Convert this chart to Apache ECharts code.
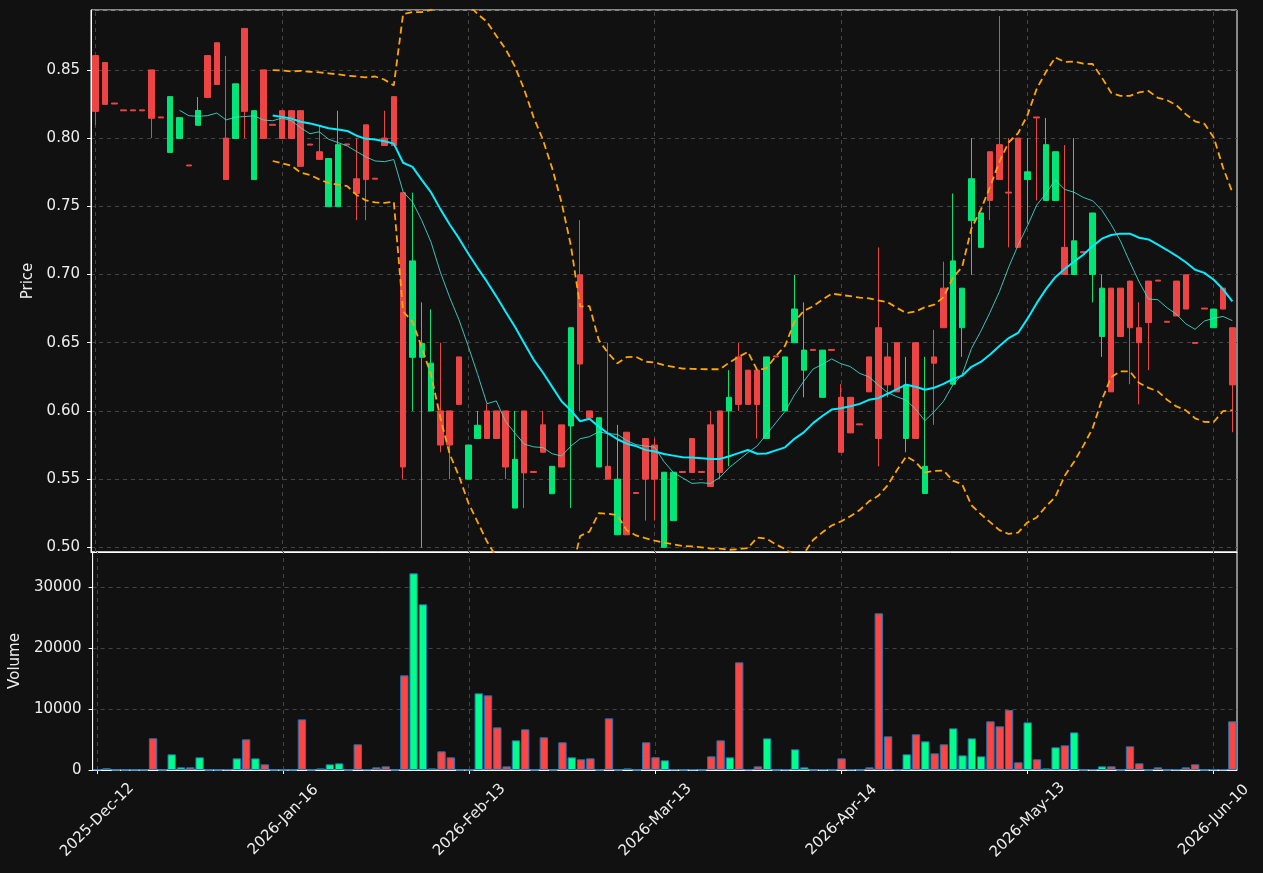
<!DOCTYPE html>
<html>
<head>
<meta charset="utf-8">
<script src="https://cdn.jsdelivr.net/npm/echarts@6/dist/echarts.min.js"></script>
<style>
html, body { margin: 0; padding: 0; background: #111111; }
#chart { width: 1263px; height: 873px; }
</style>
</head>
<body>
<div id="chart"></div>
<script>
// trading days: business days from the first date, skipping exchange holidays
const startDate = '2025-12-12';
const dayCount = 123;
const holidays = ['2025-12-24', '2025-12-25', '2025-12-26', '2025-12-31', '2026-01-01',
                  '2026-04-03', '2026-04-06', '2026-05-01'];
const monthNames = ['Jan', 'Feb', 'Mar', 'Apr', 'May', 'Jun', 'Jul', 'Aug', 'Sep', 'Oct', 'Nov', 'Dec'];
const labelEvery = 20;

// OHLC + volume
const opens = [
  0.8605,0.8554,0.8257,0.8207,0.8207,0.8207,0.8500,0.8155,0.7895,0.7997,
  0.7803,0.8094,0.8605,0.8699,0.8000,0.7997,0.8804,0.7696,0.8500,0.8101,
  0.8201,0.8201,0.8201,0.7956,0.7900,0.7497,0.7497,0.7957,0.7702,0.8097,
  0.7706,0.8000,0.8304,0.7600,0.6393,0.6393,0.6000,0.6000,0.6000,0.6396,
  0.5500,0.5798,0.6000,0.6000,0.6000,0.5288,0.6000,0.5556,0.5898,0.5393,
  0.5898,0.5890,0.6998,0.6000,0.5589,0.5594,0.5092,0.5844,0.5402,0.5798,
  0.5750,0.5000,0.5196,0.5556,0.5798,0.5556,0.5898,0.6000,0.6000,0.6396,
  0.6299,0.6299,0.5798,0.6403,0.6000,0.6500,0.6299,0.6451,0.6100,0.6451,
  0.6100,0.6100,0.5905,0.6396,0.6610,0.6396,0.6500,0.5798,0.6500,0.5395,
  0.6396,0.6900,0.6196,0.6610,0.7395,0.7199,0.7900,0.7952,0.7604,0.8000,
  0.7696,0.8155,0.7543,0.7543,0.7199,0.7000,0.7167,0.7000,0.6546,0.6900,
  0.6900,0.6952,0.6610,0.6952,0.6959,0.6657,0.6952,0.6998,0.6502,0.6754,
  0.6610,0.6900,0.6610
];
const closes = [
  0.8196,0.8247,0.8250,0.8200,0.8200,0.8200,0.8145,0.8148,0.8304,0.8150,
  0.7796,0.8202,0.8298,0.8393,0.7696,0.8398,0.8196,0.8201,0.7997,0.8094,
  0.7997,0.7997,0.7793,0.7949,0.7844,0.7850,0.7952,0.7950,0.7594,0.7696,
  0.7699,0.7946,0.7946,0.5589,0.7100,0.6495,0.6350,0.5750,0.5750,0.6048,
  0.5750,0.5895,0.5798,0.5798,0.5589,0.5645,0.5546,0.5549,0.5697,0.5594,
  0.5589,0.6610,0.6344,0.5950,0.5950,0.5500,0.5500,0.5092,0.5395,0.5500,
  0.5500,0.5551,0.5551,0.5549,0.5549,0.5549,0.5446,0.5549,0.6100,0.6048,
  0.6048,0.6048,0.6396,0.6396,0.6396,0.6747,0.6446,0.6444,0.6446,0.6444,
  0.5697,0.5839,0.5898,0.6140,0.5798,0.6191,0.6140,0.6191,0.5798,0.5594,
  0.6350,0.6610,0.7100,0.6900,0.7702,0.7451,0.7543,0.7696,0.7597,0.7199,
  0.7753,0.8148,0.7952,0.7900,0.7000,0.7247,0.7160,0.7451,0.6900,0.6140,
  0.6546,0.6610,0.6500,0.6648,0.6952,0.6650,0.6696,0.6747,0.6495,0.6747,
  0.6747,0.6747,0.6191
];
const lows = [
  0.8094,0.8247,0.8250,0.8200,0.8200,0.8200,0.8000,0.8148,0.7895,0.7997,
  0.7796,0.8094,0.8298,0.8393,0.7696,0.7997,0.8000,0.7696,0.7997,0.8094,
  0.7997,0.7997,0.7793,0.7949,0.7844,0.7497,0.7497,0.7950,0.7398,0.7398,
  0.7699,0.7946,0.7946,0.5497,0.6000,0.4998,0.6000,0.5697,0.5500,0.6048,
  0.5500,0.5798,0.5798,0.5798,0.5500,0.5288,0.5288,0.5549,0.5697,0.5393,
  0.5589,0.5288,0.6000,0.5950,0.5589,0.5500,0.5092,0.5092,0.5395,0.5196,
  0.5196,0.5000,0.5196,0.5549,0.5549,0.5549,0.5446,0.5500,0.5594,0.6000,
  0.6048,0.5798,0.5798,0.6396,0.6000,0.6500,0.6100,0.6444,0.6100,0.6444,
  0.5697,0.5839,0.5898,0.6140,0.5594,0.6100,0.6140,0.5697,0.5798,0.5395,
  0.5898,0.6610,0.6196,0.6396,0.6997,0.7199,0.7398,0.7696,0.7199,0.7199,
  0.7375,0.7543,0.7543,0.7543,0.7000,0.7000,0.7160,0.6796,0.6396,0.6140,
  0.6546,0.6196,0.6048,0.6299,0.6952,0.6650,0.6696,0.6747,0.6495,0.6747,
  0.6610,0.6747,0.5844
];
const highs = [
  0.8605,0.8554,0.8257,0.8207,0.8207,0.8207,0.8500,0.8155,0.8304,0.8150,
  0.7803,0.8301,0.8605,0.8699,0.8602,0.8398,0.8804,0.8201,0.8500,0.8101,
  0.8201,0.8201,0.8201,0.7956,0.8090,0.7850,0.8200,0.7957,0.8000,0.8097,
  0.7706,0.8200,0.8304,0.7600,0.7600,0.6796,0.6745,0.6500,0.6000,0.6396,
  0.5750,0.6000,0.6050,0.6000,0.6000,0.6000,0.6000,0.5556,0.6000,0.5594,
  0.5898,0.6610,0.7398,0.6000,0.5950,0.6500,0.5898,0.5844,0.5402,0.5798,
  0.5798,0.5551,0.5551,0.5556,0.5798,0.5556,0.6000,0.6000,0.6299,0.6500,
  0.6299,0.6299,0.6396,0.6403,0.6396,0.6998,0.6796,0.6451,0.6446,0.6451,
  0.6196,0.6100,0.5905,0.6396,0.7199,0.6500,0.6500,0.6396,0.6500,0.6396,
  0.6594,0.7094,0.7594,0.6900,0.8000,0.7451,0.7900,0.8895,0.8000,0.8000,
  0.8000,0.8155,0.8148,0.7900,0.7949,0.8000,0.7167,0.7451,0.7000,0.6900,
  0.6900,0.6952,0.6796,0.6952,0.6959,0.6657,0.6952,0.6998,0.6502,0.6754,
  0.6747,0.6900,0.6610
];
const volumes = [
  100,300,0,0,0,0,5200,0,2570,440,
  440,2080,0,0,100,1910,5030,1910,930,0,
  0,0,8300,0,270,930,1090,0,4210,100,
  440,600,0,15520,32240,27160,270,3060,2080,0,
  0,12570,12240,6990,600,4860,6670,0,5360,0,
  4540,2080,1750,1910,0,8470,0,270,0,4540,
  2100,1590,100,0,100,0,2240,4860,2080,17650,
  100,600,5190,0,100,3390,440,0,100,0,
  1910,100,0,440,25680,5520,100,2570,5850,4700,
  2730,4210,6830,2400,5190,2240,7980,7160,9840,1260,
  7810,1750,270,3720,4040,6170,0,100,600,600,
  0,3880,1090,0,440,0,100,440,930,0,
  100,100,7980
];

const UP = '#00e676', DOWN = '#ef4444';
const VOL_UP = '#00ff88', VOL_DOWN = '#ff4444';
const TXT = '#eeeeee';
const GRIDLINE = '#444444';

// build the date list
const dates = [];
const hol = new Set(holidays);
let d = new Date(startDate + 'T00:00:00Z');
while (dates.length < dayCount) {
  const iso = d.toISOString().slice(0, 10);
  const wd = d.getUTCDay();
  if (wd !== 0 && wd !== 6 && !hol.has(iso)) {
    dates.push(d.getUTCFullYear() + '-' + monthNames[d.getUTCMonth()] + '-' + iso.slice(8, 10));
  }
  d = new Date(d.getTime() + 86400000);
}

// moving average and bollinger bands of the close, as in the source chart
function rolling(arr, n, fn) {
  return arr.map((v, i) => i < n - 1 ? null : fn(arr.slice(i - n + 1, i + 1)));
}
const mean = a => a.reduce((s, v) => s + v, 0) / a.length;
const std = a => { const m = mean(a); return Math.sqrt(a.reduce((s, v) => s + (v - m) * (v - m), 0) / a.length); };
const ma10 = rolling(closes, 10, mean);
const ma20 = rolling(closes, 20, mean);
const bbUp = rolling(closes, 20, a => mean(a) + 2 * std(a));
const bbLow = rolling(closes, 20, a => mean(a) - 2 * std(a));

const candles = dates.map((_, i) => [opens[i], closes[i], lows[i], highs[i]]);
const volBars = volumes.map((v, i) => ({
  value: v,
  itemStyle: { color: closes[i] >= opens[i] ? VOL_UP : VOL_DOWN }
}));
const tickIdx = dates.map((_, i) => i).filter(i => i % labelEvery === 0);
const showTick = i => i % labelEvery === 0;

// vertical dashed grid at the labelled dates, kept under the marks
function vGrid(xi, yi) {
  return {
    type: 'line', xAxisIndex: xi, yAxisIndex: yi, data: dates.map(() => null),
    silent: true, z: 1, symbol: 'none',
    markLine: {
      silent: true, z: 1, symbol: ['none', 'none'], label: { show: false }, animation: false,
      lineStyle: { color: GRIDLINE, type: [4, 4], width: 1 },
      data: tickIdx.map(i => ({ xAxis: dates[i] }))
    }
  };
}

const chart = echarts.init(document.getElementById('chart'));
chart.setOption({
  backgroundColor: '#111111',
  animation: false,
  textStyle: { fontFamily: 'DejaVu Sans' },
  grid: [
    { left: 91, right: 26, top: 10, height: 542, show: true, borderColor: '#ffffff', borderWidth: 1 },
    { left: 91, right: 26, top: 552, height: 218, show: true, borderColor: '#ffffff', borderWidth: 1 }
  ],
  xAxis: [
    {
      type: 'category', gridIndex: 0, data: dates, boundaryGap: true,
      axisLine: { lineStyle: { color: '#ffffff' } },
      axisTick: { show: false }, axisLabel: { show: false }, splitLine: { show: false }
    },
    {
      type: 'category', gridIndex: 1, data: dates, boundaryGap: true,
      axisLine: { lineStyle: { color: '#ffffff' } },
      axisTick: { show: true, alignWithLabel: true, interval: showTick, length: 4, lineStyle: { color: '#ffffff' } },
      axisLabel: { interval: showTick, rotate: 45, color: TXT, fontSize: 15, margin: 50,
                   align: 'center', verticalAlign: 'middle' },
      splitLine: { show: false }
    }
  ],
  yAxis: [
    {
      type: 'value', gridIndex: 0, min: 0.4966, max: 0.8939, splitNumber: 8,
      name: 'Price', nameLocation: 'middle', nameGap: 49,
      nameTextStyle: { color: TXT, fontSize: 15 },
      axisLine: { show: true, lineStyle: { color: '#ffffff' } },
      axisTick: { show: true, length: 4, lineStyle: { color: '#ffffff' } },
      axisLabel: { color: TXT, fontSize: 15, margin: 11, showMinLabel: false, showMaxLabel: false,
                   formatter: v => v.toFixed(2) },
      splitLine: { show: true, lineStyle: { color: GRIDLINE, type: [4, 4] } }
    },
    {
      type: 'value', gridIndex: 1, min: 0, max: 35740, interval: 10000,
      name: 'Volume', nameLocation: 'middle', nameGap: 65,
      nameTextStyle: { color: TXT, fontSize: 15 },
      axisLine: { show: true, lineStyle: { color: '#ffffff' } },
      axisTick: { show: true, length: 4, lineStyle: { color: '#ffffff' } },
      axisLabel: { color: TXT, fontSize: 15, margin: 11, showMaxLabel: false,
                   formatter: v => String(v) },
      splitLine: { show: true, lineStyle: { color: GRIDLINE, type: [4, 4] } }
    }
  ],
  series: [
    vGrid(0, 0),
    vGrid(1, 1),
    {
      name: 'OHLC', type: 'candlestick', xAxisIndex: 0, yAxisIndex: 0, data: candles,
      barWidth: 6, z: 3,
      itemStyle: { color: UP, color0: DOWN, borderColor: UP, borderColor0: DOWN, borderWidth: 1 }
    },
    {
      name: 'MA10', type: 'line', xAxisIndex: 0, yAxisIndex: 0, data: ma10, symbol: 'none', z: 4,
      lineStyle: { color: '#40e0d0', width: 1, opacity: 0.85 }
    },
    {
      name: 'MA20', type: 'line', xAxisIndex: 0, yAxisIndex: 0, data: ma20, symbol: 'none', z: 5,
      lineStyle: { color: '#00eeff', width: 2 }
    },
    {
      name: 'BB upper', type: 'line', xAxisIndex: 0, yAxisIndex: 0, data: bbUp, symbol: 'none', z: 5,
      lineStyle: { color: '#ffa500', width: 1.8, type: [7, 4] }
    },
    {
      name: 'BB lower', type: 'line', xAxisIndex: 0, yAxisIndex: 0, data: bbLow, symbol: 'none', z: 5,
      lineStyle: { color: '#ffa500', width: 1.8, type: [7, 4] }
    },
    {
      name: 'Volume', type: 'bar', xAxisIndex: 1, yAxisIndex: 1, data: volBars, barWidth: '90%', z: 3,
      itemStyle: { borderColor: '#1f77b4', borderWidth: 1 }
    }
  ]
});
</script>
</body>
</html>
